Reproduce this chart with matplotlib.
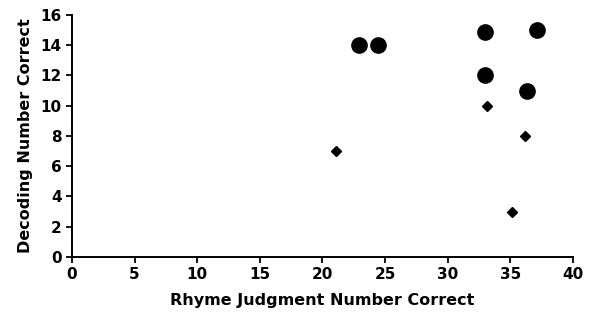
import matplotlib
matplotlib.use("Agg")
import matplotlib.pyplot as plt

plt.rcParams["font.family"] = ["DejaVu Sans"]
plt.rcParams["font.weight"] = "bold"

# circles series
circle_x = [22.9, 24.4, 33.0, 37.1, 33.0, 36.3]
circle_y = [14, 14, 14.9, 15, 12, 11]
# diamonds series
diamond_x = [21.1, 33.1, 36.2, 35.1]
diamond_y = [7, 10, 8, 3]

x_ticks = [0, 5, 10, 15, 20, 25, 30, 35, 40]
y_ticks = [0, 2, 4, 6, 8, 10, 12, 14, 16]

fig = plt.figure(figsize=(5.89, 3.18), dpi=100)
ax = fig.add_axes([0.122, 0.192, 0.851, 0.761])

ax.plot(circle_x, circle_y, "o", color="black", ms=11, mec="black", ls="none")
ax.plot(diamond_x, diamond_y, "D", color="black", ms=5, mec="black", ls="none")

ax.set_xlim(0, 40); ax.set_ylim(0, 16)
ax.set_xticks(x_ticks); ax.set_yticks(y_ticks)
for s in ("top", "right"):
    ax.spines[s].set_visible(False)
for s in ("left", "bottom"):
    ax.spines[s].set_linewidth(1.4)
ax.tick_params(width=1.3, length=4, labelsize=11)
for lab in ax.get_xticklabels() + ax.get_yticklabels():
    lab.set_fontweight("bold")

ax.set_xlabel("Rhyme Judgment Number Correct", fontsize=11.5, fontweight="bold", labelpad=8)
ax.set_ylabel("Decoding Number Correct", fontsize=11.5, fontweight="bold", labelpad=5)

fig.savefig("out.png", dpi=100, facecolor="white")
